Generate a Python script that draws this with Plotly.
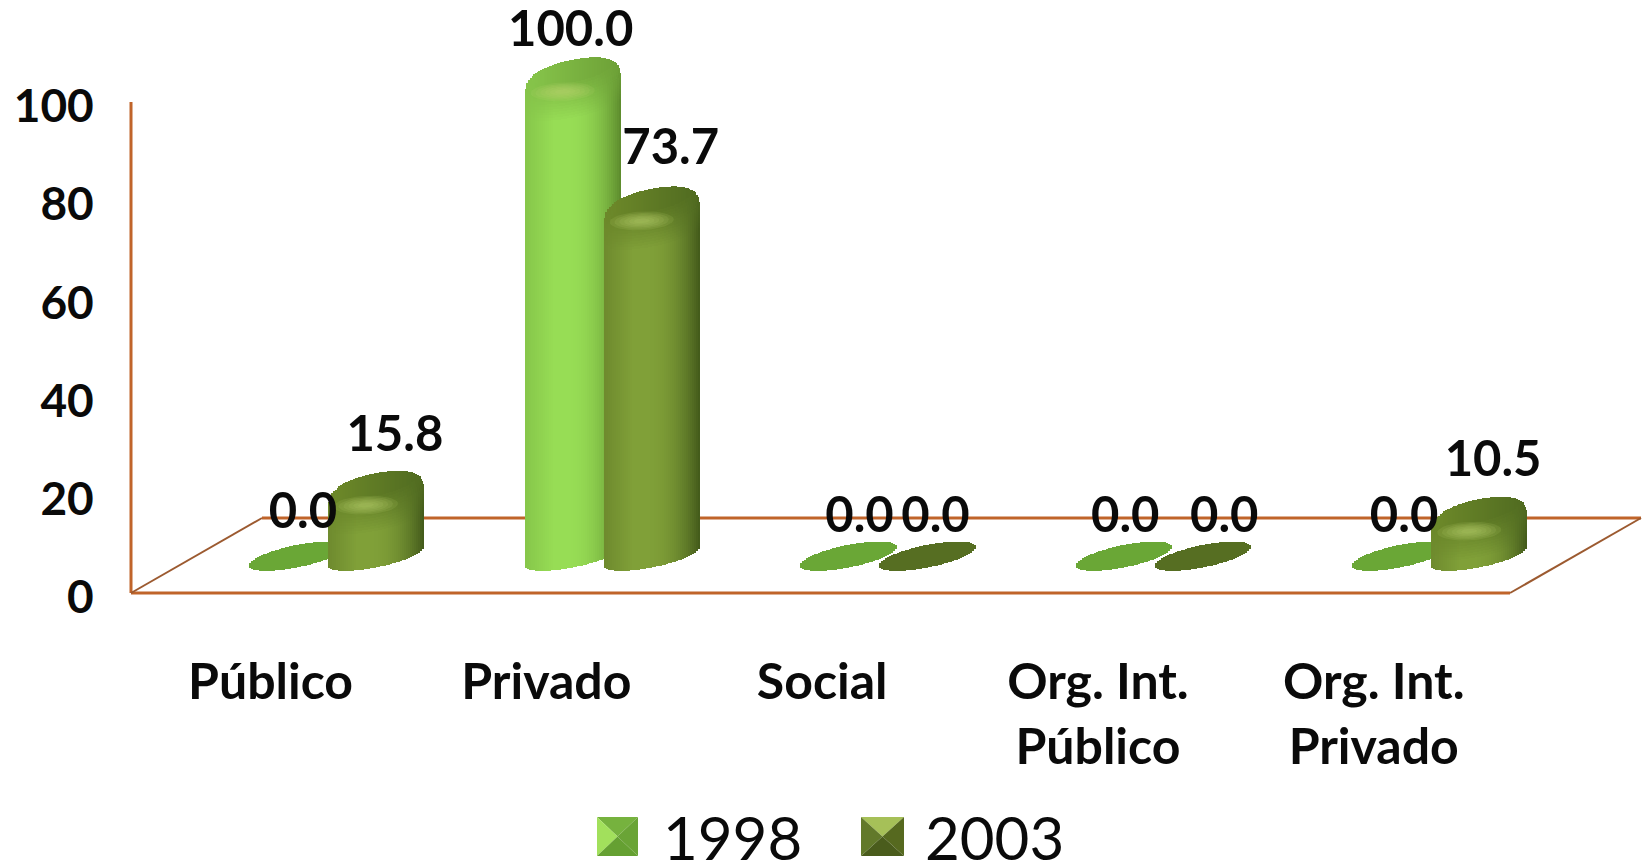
import math
import plotly.graph_objects as go

categories = ["Público", "Privado", "Social", "Org. Int.<br>Público", "Org. Int.<br>Privado"]
years = ["1998", "2003"]
values_1998 = [0.0, 100.0, 0.0, 0.0, 0.0]
values_2003 = [15.8, 73.7, 0.0, 0.0, 10.5]
y_ticks = [0, 20, 40, 60, 80, 100]

# ---- layout constants (pixels of the 1646x866 page) ----
W, H = 1646, 866
AX_L, AX_B = 131, 593        # where x=-0.5 and y=0 fall
PL, PB = 120, 603            # plot area, a little outside the axis lines so they are not clipped
PX_U = 491 / 100             # pixels per value unit
PX_C = 275.8                 # pixels per category
XAX0 = -0.5
XMIN = XAX0 - (AX_L - PL) / PX_C
XMAX = XAX0 + (W - AX_L) / PX_C
YMIN = -(PB - AX_B) / PX_U
YMAX = AX_B / PX_U

HW = 48 / PX_C               # cylinder half width
OFFS = [28 / PX_C, 107 / PX_C]
BASE = 7.5
DROP = 1.2
TILT = 1.9
MINOR = 2.3
N = 48

STYLES = [
    dict(left="#86C64A", mid="#97DD55", right="#5C8A2C", capl="#86C44A", capr="#6FA338",
         hi="rgba(205,248,140,0.13)", flat="#6AA736"),
    dict(left="#6E8A2E", mid="#80A038", right="#42591A", capl="#6C8829", capr="#526D21",
         hi="rgba(195,220,115,0.13)", flat="#566E22"),
]
# per-label nudges in pixels: (x from cylinder centre, lift above top centre)
LABEL_NUDGE = [
    [(6, 40), (-2, 37), (11, 36), (1, 36), (4, 36)],
    [(19, 46), (19, 48), (8, 36), (21, 36), (14, 47)],
]
AXIS = "#C0642A"


def hex2(c):
    return [int(c[i:i + 2], 16) for i in (1, 3, 5)]


def mix(a, b, t):
    a, b = hex2(a), hex2(b)
    return "#%02X%02X%02X" % tuple(round(a[i] + (b[i] - a[i]) * t) for i in range(3))


def body_color(s, u):
    pk = -0.15
    if u < pk:
        return mix(s["left"], s["mid"], min(1, (u + 1) / (pk + 1) * 1.4))
    t = (u - pk) / (1 - pk)
    return mix(s["mid"], s["right"], t ** 2.2)


def cap_color(s, u):
    return mix(s["capl"], s["capr"], (u + 1) / 2)


def us():
    return [-1 + (2 * k + 1) / N for k in range(N)]


fig = go.Figure()
series = [values_1998, values_2003]
strip_w = 2 * HW / N * 1.15


def add_strips(xs, bases, heights, colors, width=strip_w):
    if xs:
        fig.add_trace(go.Bar(x=xs, y=heights, base=bases, width=width,
                             marker=dict(color=colors, line=dict(width=0)),
                             showlegend=False, hoverinfo="skip"))


LAYERS = 14
STEP = 0.55                  # value units between shoulder layers
ROUND = 3.2                  # value units over which the top corner rounds off
CAP_SCALE = 0.84


def shoulder_scale(d):
    if d >= ROUND:
        return 1.0
    return CAP_SCALE + (1 - CAP_SCALE) * math.sqrt(max(1 - (1 - d / ROUND) ** 2, 0))


for si, vals in enumerate(series):
    s = STYLES[si]
    # body
    xs, bs, hs, cs = [], [], [], []
    for ci, v in enumerate(vals):
        if v <= 0:
            continue
        top = BASE + max(v - DROP, 0)
        for u in us():
            rr = math.sqrt(max(1 - u * u, 0))
            lo = BASE + TILT * u - MINOR * rr
            hi = max(top - ROUND, BASE) + TILT * u
            xs.append(ci + OFFS[si] + u * HW); bs.append(lo); hs.append(hi - lo); cs.append(body_color(s, u))
    add_strips(xs, bs, hs, cs)
    # soft rounded shoulder, lowest layer first
    for L in range(LAYERS, 0, -1):
        xs, bs, hs, cs = [], [], [], []
        d = L * STEP
        t = L / LAYERS
        sc = shoulder_scale(d)
        for ci, v in enumerate(vals):
            if v <= 0:
                continue
            top = BASE + max(v - DROP, 0)
            yc = max(top - d, BASE + 0.2)
            for u in us():
                rr = math.sqrt(max(1 - u * u, 0))
                xs.append(ci + OFFS[si] + u * HW * sc)
                bs.append(yc + TILT * u * sc - MINOR * rr)
                hs.append(2 * MINOR * rr)
                cs.append(mix(cap_color(s, u), body_color(s, u), t))
        add_strips(xs, bs, hs, cs, width=strip_w * sc)
    # caps: slimmer on the standing cylinders, full width where the value is zero
    xs, bs, hs, cs = [], [], [], []
    for ci, v in enumerate(vals):
        if v > 0:
            continue
        for u in us():
            rr = math.sqrt(max(1 - u * u, 0))
            xs.append(ci + OFFS[si] + u * HW)
            bs.append(BASE + TILT * u - MINOR * rr)
            hs.append(2 * MINOR * rr)
            cs.append(s["flat"])
    add_strips(xs, bs, hs, cs)
    xs, bs, hs, cs = [], [], [], []
    for ci, v in enumerate(vals):
        if v <= 0:
            continue
        top = BASE + v - DROP
        for u in us():
            rr = math.sqrt(max(1 - u * u, 0))
            xs.append(ci + OFFS[si] + u * HW * CAP_SCALE)
            bs.append(top + TILT * u * CAP_SCALE - MINOR * rr)
            hs.append(2 * MINOR * rr)
            cs.append(cap_color(s, u))
    add_strips(xs, bs, hs, cs, width=strip_w * CAP_SCALE)

# soft highlight under each standing cylinder's top
for si, vals in enumerate(series):
    for G in (1.0, 0.85, 0.7, 0.55, 0.4, 0.25):
        for ci, v in enumerate(vals):
            if v <= 0:
                continue
            top = BASE + v - DROP
            cx = ci + OFFS[si] - 10 / PX_C
            cy = top - 4.2
            angles = [2 * math.pi * a / 40 for a in range(41)]
            ex = [cx + 32 / PX_C * G * math.cos(a) for a in angles]
            ey = [cy + 0.3 * G * math.cos(a) + 1.9 * G * math.sin(a) for a in angles]
            fig.add_trace(go.Scatter(x=ex, y=ey, mode="lines", fill="toself", fillcolor=s["hi"],
                                     line=dict(width=0), showlegend=False, hoverinfo="skip"))

# data labels
for si, vals in enumerate(series):
    lx, ly, lt = [], [], []
    for ci, v in enumerate(vals):
        nx, ny = LABEL_NUDGE[si][ci]
        top = BASE + max(v - DROP, 0)
        lx.append(ci + OFFS[si] + nx / PX_C)
        ly.append(top + ny / PX_U)
        lt.append(f"{v:.1f}")
    fig.add_trace(go.Scatter(x=lx, y=ly, mode="text", text=lt, textposition="middle center",
                             textfont=dict(family="Lato", size=49, color="#0A0A0A", weight="bold"),
                             showlegend=False, hoverinfo="skip", cliponaxis=False))

# floor and walls
BACK_Y = (AX_B - 518) / PX_U
BACK_SHIFT = 131 / PX_C
shapes = [
    dict(type="line", x0=XAX0, x1=XAX0, y0=0, y1=100, line=dict(color=AXIS, width=3)),
    dict(type="line", x0=XAX0, x1=XAX0 + 5, y0=0, y1=0, line=dict(color=AXIS, width=3)),
    dict(type="line", x0=XAX0 + BACK_SHIFT, x1=XAX0 + 5 + BACK_SHIFT, y0=BACK_Y, y1=BACK_Y,
         line=dict(color=AXIS, width=3)),
    dict(type="line", x0=XAX0, x1=XAX0 + BACK_SHIFT, y0=0, y1=BACK_Y, line=dict(color="#9C5A30", width=2)),
    dict(type="line", x0=XAX0 + 5, x1=XAX0 + 5 + BACK_SHIFT, y0=0, y1=BACK_Y, line=dict(color="#9C5A30", width=2)),
]
for sh in shapes:
    sh["layer"] = "below"


# legend, drawn by hand so its bevelled keys can be as large as the reference's
def px(x):
    return (x - PL) / (W - PL)


def py(y):
    return (PB - y) / PB


def tri(pts, color):
    d = "M " + " L ".join(f"{px(a):.5f},{py(b):.5f}" for a, b in pts) + " Z"
    return dict(type="path", path=d, xref="paper", yref="paper",
                fillcolor=color, line=dict(width=0), layer="above")


BEVEL = [
    dict(top="#76B23E", left="#A2E05C", right="#6AA436", bottom="#65A032"),
    dict(top="#A6C058", left="#62792A", right="#56691F", bottom="#4A5C1C"),
]
KEYS = [(597, 638), (861, 904)]
LABEL_X = [663, 925]
KY0, KY1 = 817, 856
annotations = []
for i, (x0, x1) in enumerate(KEYS):
    cx, cy = (x0 + x1) / 2, (KY0 + KY1) / 2
    b = BEVEL[i]
    shapes += [
        tri([(x0, KY0), (x1, KY0), (cx, cy)], b["top"]),
        tri([(x0, KY0), (x0, KY1), (cx, cy)], b["left"]),
        tri([(x1, KY0), (x1, KY1), (cx, cy)], b["right"]),
        tri([(x0, KY1), (x1, KY1), (cx, cy)], b["bottom"]),
    ]
    annotations.append(dict(x=px(LABEL_X[i]), y=py(837), xref="paper", yref="paper",
                            text=years[i], showarrow=False, xanchor="left", yanchor="middle",
                            font=dict(family="Lato", size=60, color="#0A0A0A"),
                            xshift=-2))

fig.update_layout(
    width=W, height=H, autosize=False,
    margin=dict(l=PL, r=0, t=0, b=H - PB, pad=0),
    barmode="overlay", bargap=0,
    paper_bgcolor="white", plot_bgcolor="white",
    showlegend=False,
    shapes=shapes, annotations=annotations,
    xaxis=dict(range=[XMIN, XMAX], tickmode="array", tickvals=[i + 0.006 for i in range(5)],
               ticktext=categories,
               showgrid=False, zeroline=False, showline=False, ticks="outside", ticklen=35,
               tickcolor="rgba(0,0,0,0)", tickangle=0,
               tickfont=dict(family="Lato", size=50, color="#0A0A0A", weight="bold")),
    yaxis=dict(range=[YMIN, YMAX], tickmode="array", tickvals=y_ticks,
               showgrid=False, zeroline=False, showline=False, ticks="outside", ticklen=16,
               tickcolor="rgba(0,0,0,0)", ticklabelshift=4,
               tickfont=dict(family="Lato", size=46, color="#0A0A0A", weight="bold")),
)

fig.write_html("out.html", config={"displayModeBar": False},
               post_script="document.body.style.margin='0';document.documentElement.style.overflow='hidden';")
